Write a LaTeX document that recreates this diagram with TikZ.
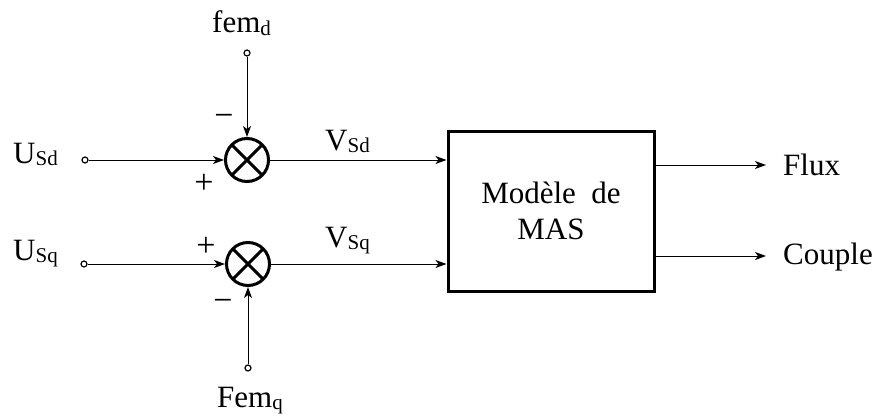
\documentclass[tikz,border=0pt]{standalone}
\usepackage{fontspec}
\setmainfont{Liberation Serif}
\usetikzlibrary{arrows.meta}
\newcommand\idx[1]{\raisebox{-2.5pt}{\fontsize{21}{21}\selectfont #1}}
\tikzset{
  sumnode/.style={circle, draw, line width=3pt, minimum size=43pt, inner sep=0pt,
    path picture={\draw[line width=3pt] (path picture bounding box.north west) -- (path picture bounding box.south east)
      (path picture bounding box.north east) -- (path picture bounding box.south west);}},
  term/.style={circle, draw, fill=white, line width=1.2pt, minimum size=6pt, inner sep=0pt},
  sig/.style={line width=1pt, -{Stealth[length=11pt,width=8pt,inset=3pt]}},
  lbl/.style={anchor=base west, inner sep=0pt},
  sgn/.style={inner sep=0pt, font=\fontsize{34}{36}\selectfont}
}
\begin{document}
\begin{tikzpicture}[x=1pt, y=-1pt, font=\fontsize{31}{36}\selectfont]
			\useasboundingbox (0,0) rectangle (877,417);
			% sommateurs
			\node[sumnode] (sd) at (247,160) {};
			\node[sumnode] (sq) at (248,264) {};
			% bornes d'entree
			\node[term] (usd) at (85,160) {};
			\node[term] (usq) at (84,264) {};
			\node[term] (femd) at (247,53) {};
			\node[term] (femq) at (248,368) {};
			\node[lbl] (usdlbl) at (13,163) {U\idx{Sd}};
			\node[lbl] (usqlbl) at (13,260) {U\idx{Sq}};
			\node[lbl] (femdlbl) at (212,33) {fem\idx{d}};
			\node[lbl] (femqlbl) at (217,407) {Fem\idx{q}};
			% bloc machine
			\node[draw, line width=3pt, minimum width=206pt, minimum height=160pt, align=center] (mas) at (551,211) {Modèle\ \ de\\MAS};
			\draw[sig] (usd) -- (sd);
			\draw[sig] (usq) -- (sq);
			\draw[sig] (femd) -- (sd);
			\draw[sig] (femq) -- (sq);
			\draw[sig] (sd) -- (sd -| mas.west);
			\draw[sig] (sq) -- (sq -| mas.west);
			\node[lbl] (vsdlbl) at (325,150) {V\idx{Sd}};
			\node[lbl] (vsqlbl) at (325,247) {V\idx{Sq}};
			% signes
			\node[sgn] (md) at (224,120) {−};
			\node[sgn] (pd) at (204,184) {+};
			\node[sgn] (pq) at (206,247) {+};
			\node[sgn] (mq) at (223,305) {−};
			% sorties
			\coordinate (flux) at (766,165);
			\coordinate (couple) at (766,256);
			\draw[sig] (mas.east |- flux) -- (flux);
			\draw[sig] (mas.east |- couple) -- (couple);
			\node[lbl] (fluxlbl) at (783,175) {Flux};
			\node[lbl] (couplelbl) at (783,264) {Couple};
\end{tikzpicture}
\end{document}
